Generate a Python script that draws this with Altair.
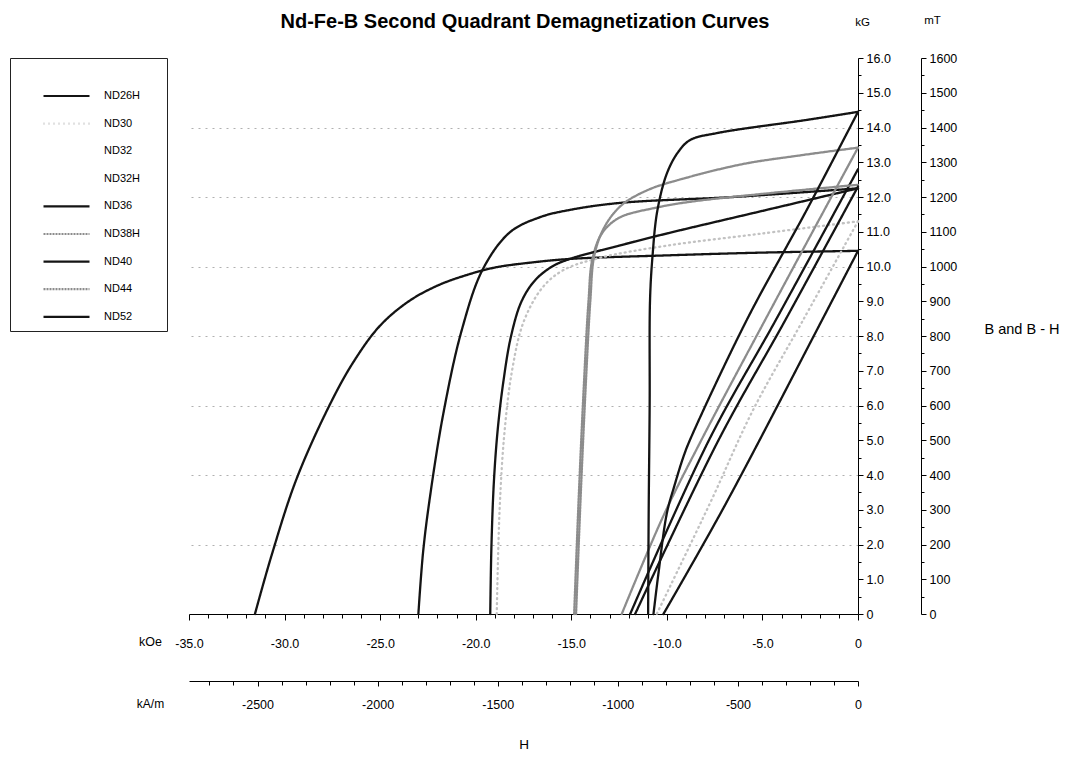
import altair as alt
import pandas as pd

FONT = "Liberation Sans, Arial, sans-serif"

TITLE = "Nd-Fe-B Second Quadrant Demagnetization Curves"

# legend / series
materials = ["ND26H", "ND30", "ND32", "ND32H", "ND36", "ND38H", "ND40", "ND44", "ND52"]
colors = ["#141414", "#c2c2c2", "#ffffff", "#ffffff", "#141414", "#8c8c8c", "#141414", "#8c8c8c", "#141414"]
dashes = [[1, 0], [1, 4], [1, 0], [1, 0], [1, 0], [2, 1], [1, 0], [2, 1], [1, 0]]

# ---- intrinsic curves (H in kOe, B in kG) ----
ND26H_J_H = [-31.55, -30.7, -29.4, -27.7, -26.4, -25.0, -23.5, -22.0, -20.5, -19.0, -17.0, -15.0, -10.0, -5.0, 0.0]
ND26H_J_B = [0.0, 1.65, 3.85, 5.95, 7.25, 8.3, 9.0, 9.45, 9.75, 9.97, 10.12, 10.22, 10.32, 10.4, 10.45]

ND30_J_H = [-18.9, -18.75, -18.5, -18.1, -17.5, -16.5, -15.4, -13.5, -10.0, -5.0, 0.0]
ND30_J_B = [0.0, 3.0, 5.2, 7.0, 8.4, 9.4, 9.9, 10.25, 10.6, 10.95, 11.3]

ND36_J_H = [-23.0, -22.75, -22.39, -21.69, -20.73, -19.62, -18.2, -16.63, -15.06, -12.45, -6.53, 0.0]
ND36_J_B = [0.0, 1.8, 3.38, 5.78, 8.17, 9.93, 10.99, 11.42, 11.63, 11.83, 12.0, 12.25]

ND40_J_H = [-19.24, -19.18, -19.05, -18.85, -18.55, -18.15, -17.6, -16.9, -16.0, -15.06, -12.5, -10.0, -5.0, 0.0]
ND40_J_B = [0.0, 1.9, 3.8, 5.3, 6.7, 8.0, 9.0, 9.6, 10.0, 10.22, 10.6, 10.95, 11.6, 12.25]

ND38H_J_H = [-14.85, -14.6, -14.35, -14.1, -13.9, -13.4, -12.5, -10.5, -8.8, -4.45, 0.0]
ND38H_J_B = [0.0, 3.5, 6.5, 9.0, 10.2, 10.95, 11.4, 11.7, 11.86, 12.12, 12.35]

ND44_J_H = [-14.75, -14.5, -14.25, -14.0, -13.8, -13.3, -12.4, -11.0, -9.0, -6.0, -3.0, 0.0]
ND44_J_B = [0.0, 3.5, 6.5, 9.04, 10.3, 11.1, 11.75, 12.2, 12.55, 12.95, 13.2, 13.42]

ND52_J_H = [-10.98, -10.95, -10.9, -10.88, -10.75, -10.5, -9.99, -9.4, -8.78, -7.37, -2.66, 0.0]
ND52_J_B = [0.0, 3.0, 6.0, 9.04, 10.3, 11.6, 12.69, 13.3, 13.64, 13.84, 14.22, 14.45]

# ---- normal (B) curves ----
ND26H_N_H = [0.0, -1.88, -7.0, -10.18]
ND26H_N_B = [10.45, 8.46, 3.09, 0.0]

ND30_N_H = [0.0, -2.87, -5.49, -7.74, -10.53]
ND30_N_B = [11.3, 8.46, 5.87, 3.19, 0.0]

ND36_N_H = [0.0, -4.3, -7.8, -11.92]
ND36_N_B = [12.8, 8.46, 5.0, 0.0]

ND40_N_H = [0.0, -3.8, -7.3, -11.66]
ND40_N_B = [12.3, 8.46, 5.0, 0.0]

ND44_N_H = [0.0, -4.86, -8.2, -10.2, -12.36]
ND44_N_B = [13.42, 8.46, 5.0, 2.8, 0.0]

ND52_N_H = [0.0, -2.66, -5.82, -8.79, -9.13, -9.6, -10.0, -10.44, -10.7]
ND52_N_B = [14.45, 11.65, 8.46, 5.01, 4.53, 3.7, 2.9, 1.17, 0.0]

# axis tick values
koe_ticks = list(range(-35, 1))
kg_ticks = [i * 0.5 for i in range(33)]
mt_ticks = list(range(0, 1601, 50))
kam_ticks = list(range(-2700, 1, 100))
KAM_MIN = -35 * 79.5775

curves = [
    ("ND26H", "J", ND26H_J_H, ND26H_J_B), ("ND26H", "N", ND26H_N_H, ND26H_N_B),
    ("ND30", "J", ND30_J_H, ND30_J_B), ("ND30", "N", ND30_N_H, ND30_N_B),
    ("ND36", "J", ND36_J_H, ND36_J_B), ("ND36", "N", ND36_N_H, ND36_N_B),
    ("ND38H", "J", ND38H_J_H, ND38H_J_B),
    ("ND40", "J", ND40_J_H, ND40_J_B), ("ND40", "N", ND40_N_H, ND40_N_B),
    ("ND44", "J", ND44_J_H, ND44_J_B), ("ND44", "N", ND44_N_H, ND44_N_B),
    ("ND52", "J", ND52_J_H, ND52_J_B), ("ND52", "N", ND52_N_H, ND52_N_B),
]
rows = []
for mat, kind, hs, bs in curves:
    for i, (h, b) in enumerate(zip(hs, bs)):
        rows.append({"material": mat, "key": mat + "_" + kind, "idx": i, "H": h, "B": b})
df = pd.DataFrame(rows)

# the legend title is a white spacer that only sets the box size
legend = alt.Legend(
    title="_" * 21, titleFont=FONT, titleFontSize=12, titlePadding=12, titleColor="white",
    orient="none", legendX=-179, legendY=0,
    symbolType="stroke", symbolSize=2116, symbolStrokeWidth=2.2, symbolOffset=24,
    clipHeight=12, rowPadding=15.6, padding=8,
    labelFont=FONT, labelFontSize=11, labelOffset=13, labelColor="black",
    strokeColor="#222222", fillColor="white",
)

x_axis = alt.Axis(
    orient="bottom", values=koe_ticks, grid=False,
    labelExpr="datum.value % 5 === 0 ? (datum.value === 0 ? '0' : (datum.value < 0 ? '-' : '') + format(abs(datum.value), '.1f')) : ''",
    tickSize={"condition": {"test": "datum.value % 5 === 0", "value": 6}, "value": 4},
    labelPadding=17, labelFont=FONT, labelFontSize=12.5, labelColor="black",
    domainColor="black", tickColor="black", labelFlush=False, labelOverlap=False,
    title="kOe", titleFont=FONT, titleFontSize=12.5, titleFontWeight="normal", titleColor="black",
    titleX=-39, titleY=27, titleAlign="center", titleBaseline="middle", titleAngle=0,
)
y_axis = alt.Axis(
    orient="right", values=kg_ticks, grid=True,
    gridDash=[2, 5], gridColor="#b0b0b0",
    gridOpacity={"condition": {"test": "datum.value % 2 === 0 && datum.value > 0 && datum.value < 16", "value": 1}, "value": 0},
    labelExpr="datum.value % 1 === 0 ? (datum.value === 0 ? '0' : format(datum.value, '.1f')) : ''",
    tickSize={"condition": {"test": "datum.value % 1 === 0", "value": 5}, "value": 3},
    labelPadding=3, labelFont=FONT, labelFontSize=12.5, labelColor="black",
    domainColor="black", tickColor="black", labelFlush=False, labelOverlap=False,
    title="kG", titleFont=FONT, titleFontSize=11.5, titleFontWeight="normal", titleColor="black",
    titleX=4, titleY=-36, titleAlign="center", titleBaseline="middle", titleAngle=0,
)

lines = alt.Chart(df).mark_line(strokeWidth=2.3, interpolate="catmull-rom", strokeCap="round").encode(
    x=alt.X("H:Q", scale=alt.Scale(domain=[-35, 0], nice=False, zero=False), axis=x_axis),
    y=alt.Y("B:Q", scale=alt.Scale(domain=[0, 16], nice=False, zero=False), axis=y_axis),
    color=alt.Color("material:N", scale=alt.Scale(domain=materials, range=colors), legend=legend),
    strokeDash=alt.StrokeDash("material:N", scale=alt.Scale(domain=materials, range=dashes), legend=legend),
    detail="key:N",
    order="idx:Q",
)

title_text = alt.Chart(pd.DataFrame({"t": [TITLE]})).mark_text(
    font=FONT, fontSize=20, fontWeight="bold", align="center", baseline="middle", color="black"
).encode(text="t:N", x=alt.value(336), y=alt.value(-36))

bh_text = alt.Chart(pd.DataFrame({"t": ["B and B - H"]})).mark_text(
    font=FONT, fontSize=14.5, align="center", baseline="middle", color="black"
).encode(text="t:N", x=alt.value(833), y=alt.value(272))

h_text = alt.Chart(pd.DataFrame({"t": ["H"]})).mark_text(
    font=FONT, fontSize=13.5, align="center", baseline="middle", color="black"
).encode(text="t:N", x=alt.value(335), y=alt.value(687))

axes_df = pd.DataFrame({"kAm": [KAM_MIN, 0.0], "mT": [0.0, 1600.0]})
axis_layer = alt.Chart(axes_df).mark_point(opacity=0).encode(
    x=alt.X("kAm:Q", scale=alt.Scale(domain=[KAM_MIN, 0], nice=False, zero=False), axis=alt.Axis(
        orient="bottom", offset=67, values=kam_ticks, grid=False,
        labelExpr="datum.value % 500 === 0 ? (datum.value < 0 ? '-' : '') + format(abs(datum.value), 'd') : ''",
        tickSize={"condition": {"test": "datum.value % 500 === 0", "value": 5}, "value": 4},
        labelPadding=12, labelFont=FONT, labelFontSize=12.5, labelColor="black",
        domainColor="black", tickColor="black", labelFlush=False, labelOverlap=False,
        title="kA/m", titleFont=FONT, titleFontSize=12, titleFontWeight="normal", titleColor="black",
        titleX=-39, titleY=22, titleAlign="center", titleBaseline="middle", titleAngle=0,
    )),
    y=alt.Y("mT:Q", scale=alt.Scale(domain=[0, 1600], nice=False, zero=False), axis=alt.Axis(
        orient="right", offset=63, values=mt_ticks, grid=False,
        labelExpr="datum.value % 100 === 0 ? format(datum.value, 'd') : ''",
        tickSize={"condition": {"test": "datum.value % 100 === 0", "value": 5}, "value": 3},
        labelPadding=3, labelFont=FONT, labelFontSize=12.5, labelColor="black",
        domainColor="black", tickColor="black", labelFlush=False, labelOverlap=False,
        title="mT", titleFont=FONT, titleFontSize=11.5, titleFontWeight="normal", titleColor="black",
        titleX=11, titleY=-38, titleAlign="center", titleBaseline="middle", titleAngle=0,
    )),
)

inner = alt.layer(lines, title_text, bh_text, h_text)
chart = alt.layer(inner, axis_layer).resolve_scale(x="independent", y="independent").properties(
    width=669, height=556,
    autosize=alt.AutoSizeParams(type="none"),
    padding={"left": 189, "top": 58, "right": 208, "bottom": 145},
    background="white",
).configure_view(strokeWidth=0)

chart.save("out.html", embed_options={"renderer": "svg", "actions": False})
